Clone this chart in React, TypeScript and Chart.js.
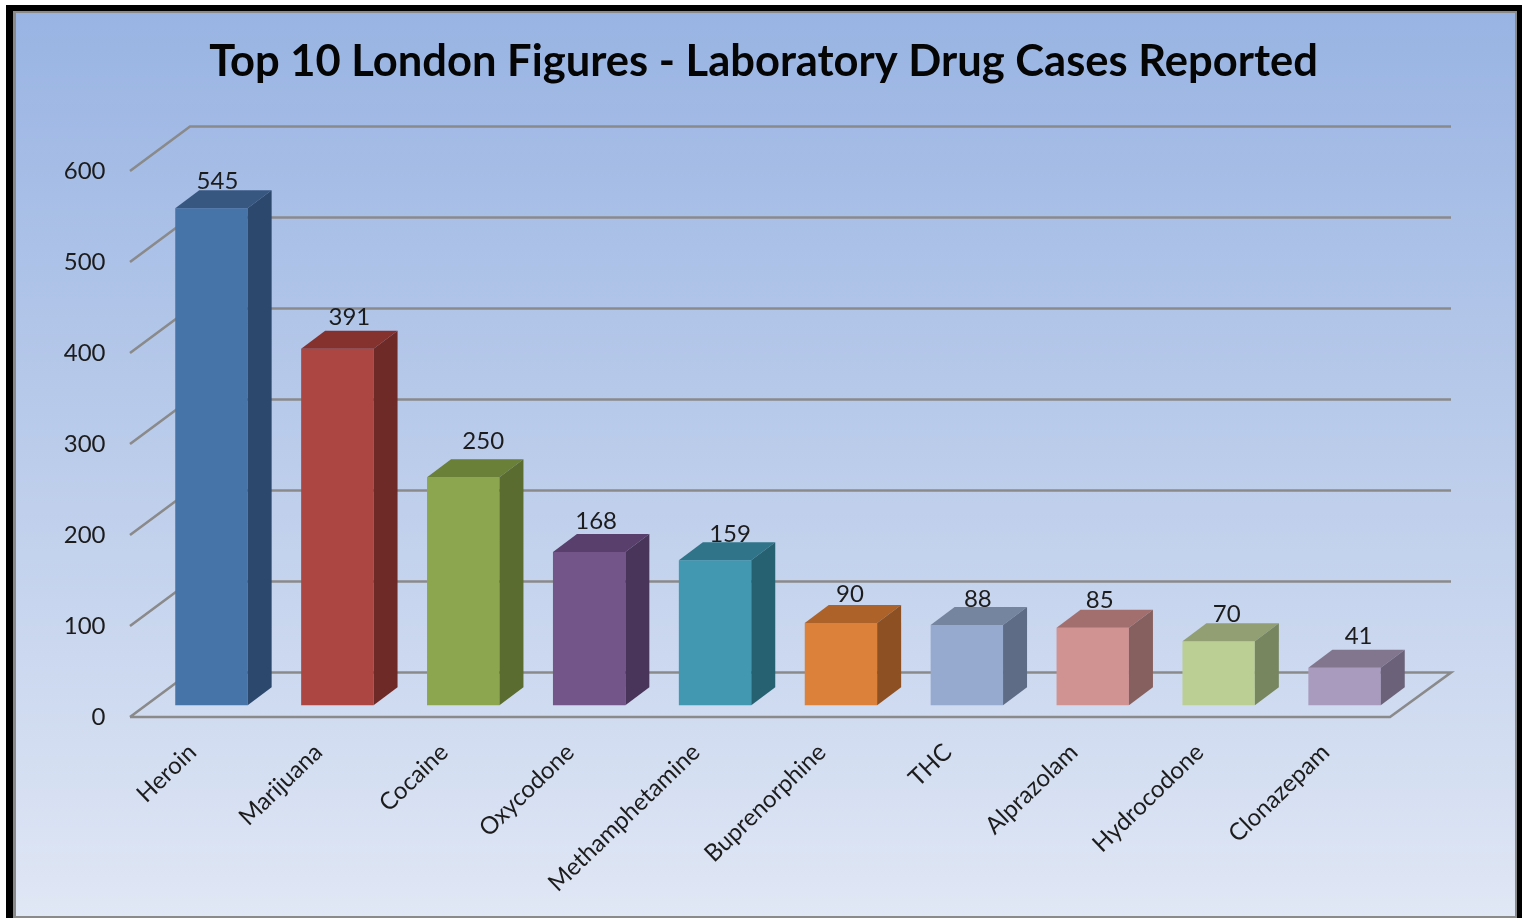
import React, { useEffect, useRef } from "react";
import { Chart, registerables } from "chart.js";

Chart.register(...registerables);

const categories = ["Heroin", "Marijuana", "Cocaine", "Oxycodone", "Methamphetamine", "Buprenorphine", "THC", "Alprazolam", "Hydrocodone", "Clonazepam"];
const cases = [545, 391, 250, 168, 159, 90, 88, 85, 70, 41];
const frontColors = ["#4673a8", "#ac4643", "#8ba64f", "#735589", "#4198b0", "#dc813a", "#96a9ce", "#d19392", "#bbcf94", "#a99bbd"];
const topColors = ["#375781", "#85322f", "#6a7f38", "#583f6c", "#2f7488", "#ac6228", "#75849f", "#a26f6e", "#919f72", "#82768f"];
const sideColors = ["#2c486c", "#6e2a27", "#5a6c2f", "#483559", "#256170", "#8c5023", "#5f6c86", "#85605e", "#78865f", "#6b6279"];
const titleText = "Top 10 London Figures - Laboratory Drug Cases Reported";
const labelNudgeX = [6, 12, 20, 7, 15, 9, 11, 7, 8, 14];
const labelNudgeY = [9, 13, 18, 13, 8, 11, 8, 9, 9, 14];

const FONT = "Lato";
const GRID = "#8a8a8a";
const DX = 24;
const DY = 18;

const scene = {
  id: "scene",
  beforeDraw(chart: any) {
    const { ctx, width, height } = chart;
    ctx.save();
    ctx.fillStyle = "#ffffff";
    ctx.fillRect(0, 0, width, height);
    ctx.fillStyle = "#000000";
    ctx.fillRect(6, 5, 1516, height - 5);
    ctx.fillStyle = "#8a8a8a";
    ctx.fillRect(13, 11, 1504, height - 11);
    const g = ctx.createLinearGradient(0, 13, 0, 916);
    g.addColorStop(0, "#99b4e3");
    g.addColorStop(0.5, "#bccdeb");
    g.addColorStop(1, "#e0e7f5");
    ctx.fillStyle = g;
    ctx.fillRect(16, 13, 1499, 903);
    ctx.restore();
  },
  beforeDatasetsDraw(chart: any) {
    const { ctx, chartArea, scales } = chart;
    const y = scales.y;
    const frontL = chartArea.left - 18.5;
    const backL = frontL + 60;
    const backR = chartArea.right + 43.5;
    const frontR = backR - 61;
    ctx.save();
    ctx.strokeStyle = GRID;
    ctx.lineWidth = 2.6;
    ctx.lineJoin = "miter";
    y.ticks.forEach((t: any) => {
      const py = y.getPixelForValue(t.value);
      ctx.beginPath();
      ctx.moveTo(frontL, py);
      ctx.lineTo(backL, py - 44.5);
      ctx.lineTo(backR, py - 44.5);
      if (t.value === 0) {
        ctx.lineTo(frontR, py);
        ctx.lineTo(frontL, py);
      }
      ctx.stroke();
    });
    ctx.restore();
  },
  afterDatasetsDraw(chart: any) {
    const { ctx } = chart;
    const bars = chart.getDatasetMeta(0).data;
    ctx.save();
    ctx.font = `24px ${FONT}`;
    ctx.fillStyle = "#1c1c1c";
    ctx.textAlign = "center";
    ctx.textBaseline = "middle";
    bars.forEach((b: any, i: number) => {
      ctx.fillText(String(cases[i]), b.x + labelNudgeX[i], b.y - DY - labelNudgeY[i]);
    });
    bars.forEach((b: any, i: number) => {
      const l = b.x - b.width / 2;
      const r = b.x + b.width / 2;
      ctx.fillStyle = topColors[i];
      ctx.beginPath();
      ctx.moveTo(l, b.y);
      ctx.lineTo(l + DX, b.y - DY);
      ctx.lineTo(r + DX, b.y - DY);
      ctx.lineTo(r, b.y);
      ctx.closePath();
      ctx.fill();
      ctx.fillStyle = sideColors[i];
      ctx.beginPath();
      ctx.moveTo(r, b.y);
      ctx.lineTo(r + DX, b.y - DY);
      ctx.lineTo(r + DX, b.base - DY);
      ctx.lineTo(r, b.base);
      ctx.closePath();
      ctx.fill();
    });
    ctx.restore();
  },
};

export default function App() {
  const ref = useRef<HTMLCanvasElement | null>(null);
  useEffect(() => {
    document.body.style.margin = "0";
    const chart = new Chart(ref.current as HTMLCanvasElement, {
      type: "bar",
      data: {
        labels: categories,
        datasets: [
          {
            data: cases,
            yAxisID: "yBars",
            backgroundColor: frontColors,
            borderWidth: 0,
            categoryPercentage: 1,
            barPercentage: 0.575,
          },
        ],
      },
      options: {
        animation: false,
        responsive: false,
        layout: { padding: 0 },
        plugins: {
          legend: { display: false },
          tooltip: { enabled: false },
          title: {
            display: true,
            text: titleText,
            color: "#050505",
            font: { family: FONT, size: 43.5, weight: "bold", lineHeight: 1.2 },
            padding: { top: 36, bottom: 82.8 },
          },
        },
        scales: {
          x: {
            grid: { display: false, drawTicks: false },
            border: { display: false },
            afterFit(s: any) { s.height = 201; },
            ticks: {
              autoSkip: false,
              minRotation: 44,
              maxRotation: 44,
              padding: 21,
              labelOffset: -19,
              color: "#1c1c1c",
              font: { family: FONT, size: 24 },
            },
          },
          y: {
            position: "left",
            min: 0,
            max: 600,
            grid: { display: false, drawTicks: false },
            border: { display: false },
            afterFit(s: any) { s.width = 148.5; },
            ticks: {
              stepSize: 100,
              padding: 43,
              color: "#1c1c1c",
              font: { family: FONT, size: 24 },
            },
          },
          yBars: {
            display: false,
            min: -13,
            max: 586,
          },
          rightGap: {
            position: "right",
            grid: { display: false, drawTicks: false },
            border: { display: false },
            ticks: { display: false },
            afterFit(s: any) { s.width = 119.5; },
          },
        },
      } as any,
      plugins: [scene],
    });
    return () => chart.destroy();
  }, []);
  return <canvas ref={ref} width={1527} height={918} style={{ display: "block" }} />;
}
